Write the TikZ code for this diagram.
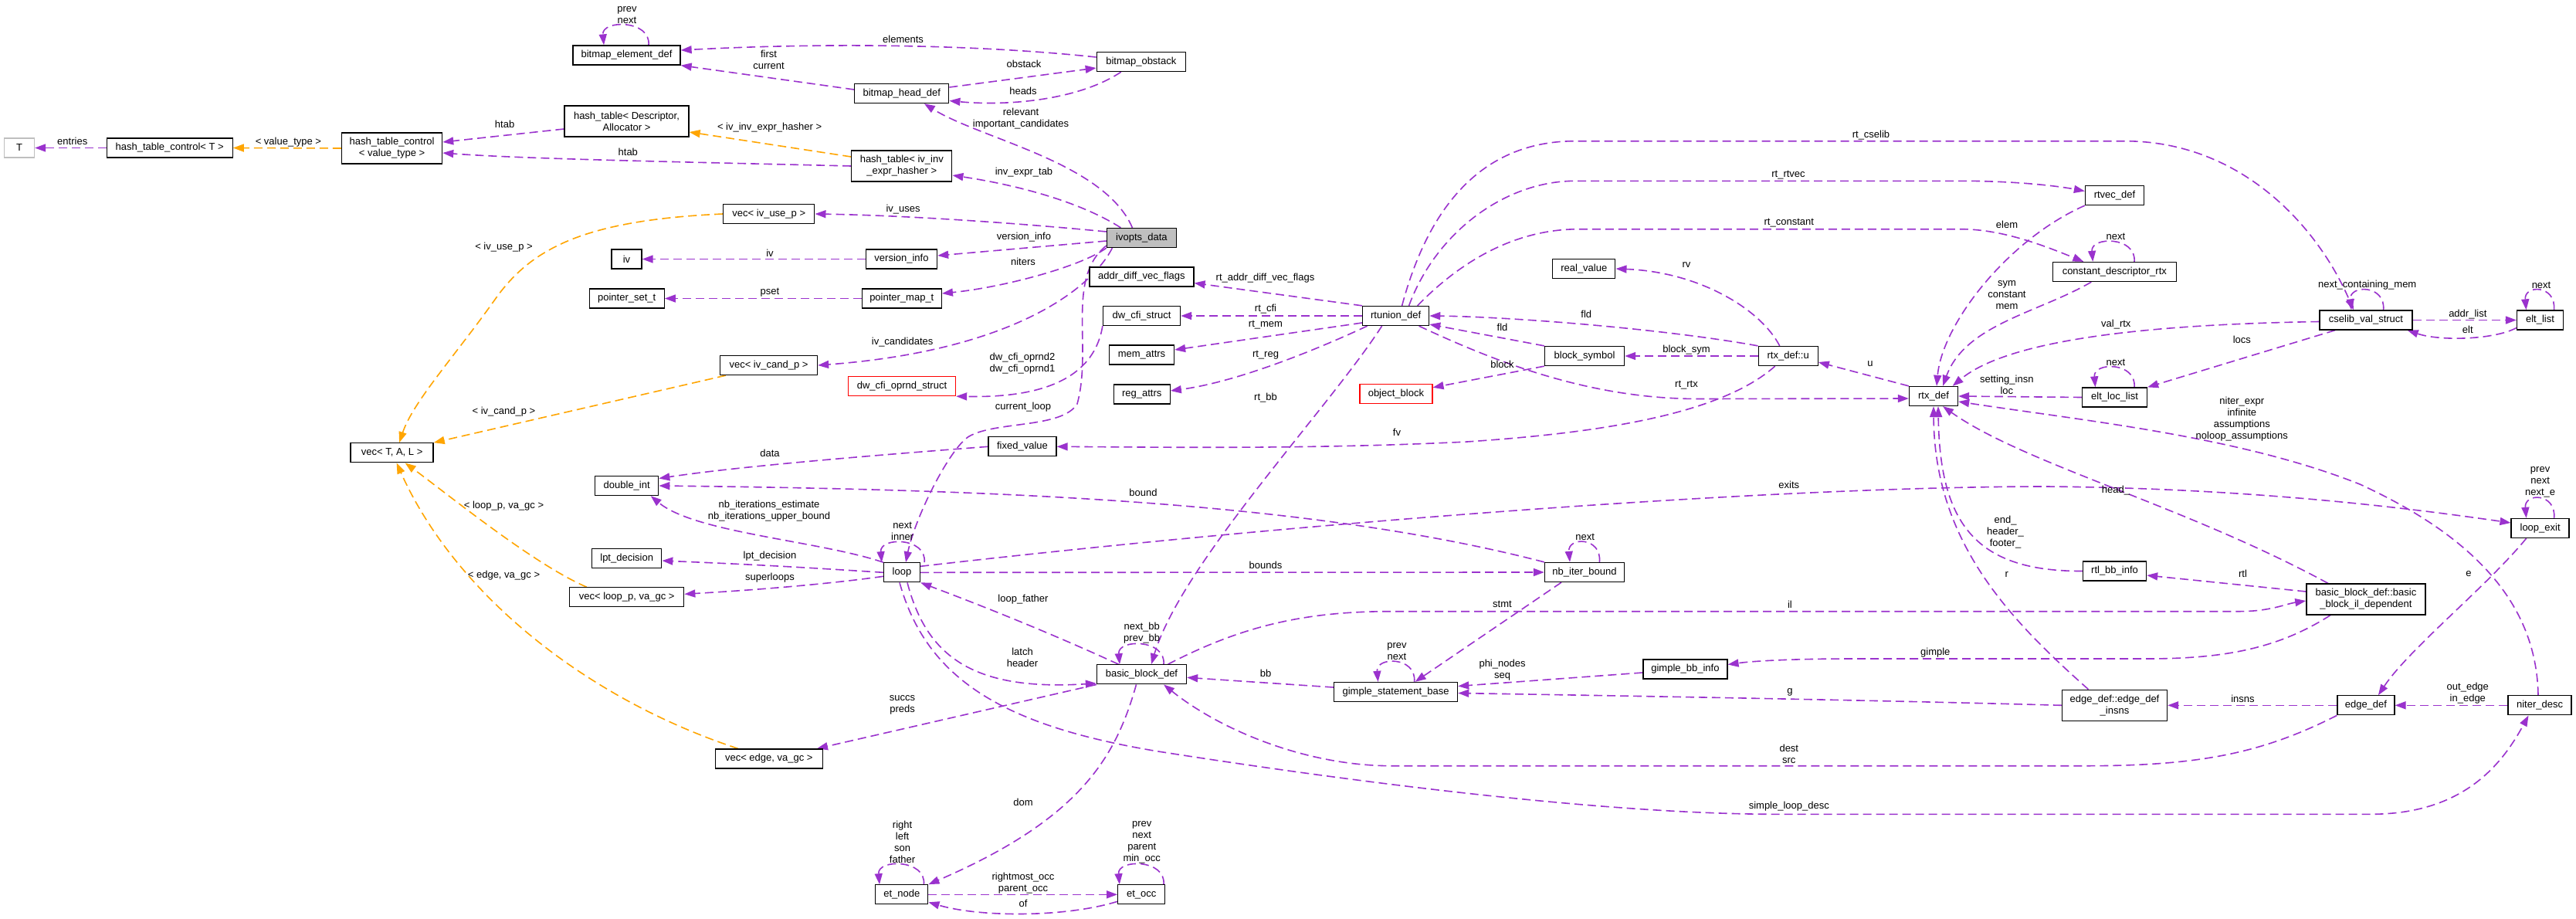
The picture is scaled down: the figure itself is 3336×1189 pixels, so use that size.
\documentclass[tikz,border=0pt]{standalone}
\usepackage{fontspec}
\setmainfont{Liberation Sans}
\usetikzlibrary{arrows.meta}
\definecolor{ep}{HTML}{9A32CD}
\definecolor{eo}{HTML}{FFA500}
\definecolor{gfill}{HTML}{BFBFBF}
\newcommand\fsz{\fontsize{13}{15}\selectfont}
\pgfdeclarelayer{bg}
\pgfsetlayers{bg,main}
\tikzset{
 box/.style={draw=black, line width=1.3pt, fill=white, inner sep=0pt, minimum height=25pt, align=center, font=\fsz},
 lbl/.style={inner sep=0pt, align=center, font=\fsz},
 pe/.style={draw=ep, line width=1.6pt, dash pattern=on 11pt off 6pt, -{Triangle[length=14pt,width=10pt]}},
 oe/.style={pe, draw=eo},
}
\newcommand\sloop[3]{\draw[pe] ([xshift=#2pt]#1.north) .. controls +(3,-33) and +(-3,-33) .. ([xshift=#3pt]#1.north);}
\newcommand\elab[4]{\node[lbl] (#1) at (#2,#3) {#4};}
\begin{document}
\begin{tikzpicture}[x=1pt,y=-1pt]
\useasboundingbox (0,0) rectangle (3336,1189);
% nodes
\node[box,minimum width=39pt,draw=gfill] (T) at (25,191.5) {T};
\node[box,minimum width=163pt] (htcT) at (219.7,191.5) {hash\_table\_control< T >};
\node[box,minimum width=130pt,minimum height=40pt] (htcV) at (507.6,192) {hash\_table\_control\\< value\_type >};
\node[box,minimum width=161pt,minimum height=40pt] (htDA) at (811.5,157) {hash\_table< Descriptor,\\ Allocator >};
\node[box,minimum width=139pt] (bed) at (811.5,71.5) {bitmap\_element\_def};
\node[box,minimum width=39pt] (iv) at (811.5,335.5) {iv};
\node[box,minimum width=97pt] (pset) at (811.7,386.5) {pointer\_set\_t};
\node[box,minimum width=107pt] (vecTAL) at (507.6,586.3) {vec< T, A, L >};
\node[box,minimum width=82pt] (dint) at (811.7,629) {double\_int};
\node[box,minimum width=90pt] (lpt) at (811.7,722.7) {lpt\_decision};
\node[box,minimum width=148pt] (vecloop) at (811.7,773.3) {vec< loop\_p, va\_gc >};
\node[box,minimum width=115pt] (bho) at (1477.8,80) {bitmap\_obstack};
\node[box,minimum width=122pt] (bhd) at (1167.8,121) {bitmap\_head\_def};
\node[box,minimum width=130pt,minimum height=40pt] (htiv) at (1167.8,215) {hash\_table< iv\_inv\\\_expr\_hasher >};
\node[box,minimum width=118pt] (vecuse) at (995.8,277) {vec< iv\_use\_p >};
\node[box,minimum width=90pt,fill=gfill] (ivopts) at (1478.4,308) {ivopts\_data};
\node[box,minimum width=92pt] (vinfo) at (1167.5,335.5) {version\_info};
\node[box,minimum width=103pt] (pmap) at (1167.8,386.5) {pointer\_map\_t};
\node[box,minimum width=135pt] (adv) at (1478.4,358.5) {addr\_diff\_vec\_flags};
\node[box,minimum width=100pt] (dwcfi) at (1478.5,409) {dw\_cfi\_struct};
\node[box,minimum width=84pt] (memattrs) at (1478.5,459.5) {mem\_attrs};
\node[box,minimum width=73pt] (regattrs) at (1478.7,510.5) {reg\_attrs};
\node[box,minimum width=126pt] (veccand) at (995.5,473) {vec< iv\_cand\_p >};
\node[box,minimum width=139pt,draw=red] (dwop) at (1168,500) {dw\_cfi\_oprnd\_struct};
\node[box,minimum width=88pt] (fixedv) at (1324,578.3) {fixed\_value};
\node[box,minimum width=47pt] (loop) at (1168,741.3) {loop};
\node[box,minimum width=86pt] (rtunion) at (1807.6,409) {rtunion\_def};
\node[box,minimum width=81pt] (realv) at (2051.3,348) {real\_value};
\node[box,minimum width=103pt] (blocksym) at (2052,461) {block\_symbol};
\node[box,minimum width=77pt] (rtxu) at (2315.7,461) {rtx\_def::u};
\node[box,minimum width=94pt,draw=red] (objblock) at (1807.9,510.3) {object\_block};
\node[box,minimum width=103pt] (nbiter) at (2052,741) {nb\_iter\_bound};
\node[box,minimum width=76pt] (rtvec) at (2738.5,253) {rtvec\_def};
\node[box,minimum width=160pt] (cdrtx) at (2738.3,352) {constant\_descriptor\_rtx};
\node[box,minimum width=120pt] (cselib) at (3064,414.5) {cselib\_val\_struct};
\node[box,minimum width=60pt] (eltlist) at (3289.5,414.5) {elt\_list};
\node[box,minimum width=63pt] (rtx) at (2504,513) {rtx\_def};
\node[box,minimum width=84pt] (eltloc) at (2738.5,514.5) {elt\_loc\_list};
\node[box,minimum width=75pt] (loopexit) at (3289.6,684) {loop\_exit};
\node[box,minimum width=82pt] (rtlbb) at (2738.5,739.5) {rtl\_bb\_info};
\node[box,minimum width=154pt,minimum height=40pt] (bbil) at (3063.9,776) {basic\_block\_def::basic\\\_block\_il\_dependent};
\node[box,minimum width=136pt,minimum height=40pt] (edins) at (2738.5,913.3) {edge\_def::edge\_def\\\_insns};
\node[box,minimum width=74pt] (edge) at (3063.9,913.3) {edge\_def};
\node[box,minimum width=82pt] (niter) at (3289,913.3) {niter\_desc};
\node[box,minimum width=160pt] (gsb) at (1807.6,896) {gimple\_statement\_base};
\node[box,minimum width=109pt] (gbb) at (2182.4,866.5) {gimple\_bb\_info};
\node[box,minimum width=116pt] (bbdef) at (1478.5,873.3) {basic\_block\_def};
\node[box,minimum width=139pt] (vecedge) at (995.8,982.5) {vec< edge, va\_gc >};
\node[box,minimum width=68pt] (etnode) at (1167.8,1158.3) {et\_node};
\node[box,minimum width=61pt] (etocc) at (1478.2,1158.3) {et\_occ};
% edges
\begin{pgfonlayer}{bg}
\fill[white] (0,0) rectangle (3336,1189);
\draw[pe] (htcT.west) -- (T.east);
\draw[oe] (htcV.west) -- (htcT.east);
\draw[pe] ([yshift=-10pt]htDA.west) -- ([yshift=8pt]htcV.east);
\draw[pe] (htiv.west) .. controls (900,210) and (680,206) .. ([yshift=-6pt]htcV.east);
\draw[oe] ([yshift=12pt]htiv.west) -- ([yshift=-14pt]htDA.east);
\sloop{bed}{28.5}{-29.5}
\draw[pe] ([yshift=6pt]bho.west) .. controls (1250,56) and (1050,56) .. ([yshift=6.5pt]bed.east);
\draw[pe] ([yshift=5pt]bhd.west) -- (bed.south east);
\draw[pe] ([yshift=8pt]bhd.east) -- ([yshift=-8pt]bho.west);
\draw[pe] ([xshift=-26pt]bho.south) .. controls (1400,128) and (1310,138) .. ([yshift=-9.5pt]bhd.east);
\draw[pe] ([xshift=-12pt]ivopts.north) .. controls (1430,210) and (1270,180) .. ([xshift=29pt]bhd.south);
\draw[pe] ([xshift=-27pt]ivopts.north) .. controls (1400,262) and (1320,240) .. ([yshift=-12pt]htiv.east);
\draw[pe] ([yshift=8pt]ivopts.west) .. controls (1330,290) and (1180,279) .. (vecuse.east);
\draw[pe] ([yshift=-4pt]ivopts.west) -- ([yshift=4.5pt]vinfo.east);
\draw[pe] (vinfo.west) -- (iv.east);
\draw[pe] (ivopts.south west) .. controls (1400,345) and (1300,372) .. ([yshift=6.5pt]pmap.east);
\draw[pe] (pmap.west) -- (pset.east);
\draw[pe] ([xshift=-38pt]ivopts.south) .. controls (1410,380) and (1300,455) .. (veccand.east);
\draw[pe] ([yshift=-10pt]ivopts.west) .. controls (1380,360) and (1415,450) .. (1395,523) .. controls (1375,555) and (1290,545) .. (1255,565) .. controls (1230,580) and (1185,670) .. ([xshift=5pt]loop.north);
\draw[pe] (rtunion.north west) -- ([yshift=-8pt]adv.east);
\draw[pe] (rtunion.west) -- (dwcfi.east);
\draw[pe] ([yshift=-9pt]rtunion.west) -- ([yshift=6.5pt]memattrs.east);
\draw[pe] ([xshift=-37pt]rtunion.south) .. controls (1700,455) and (1600,495) .. ([yshift=4.5pt]regattrs.east);
\draw[pe] ([xshift=-18pt]rtunion.south) .. controls (1720,530) and (1530,730) .. ([xshift=12.5pt]bbdef.north);
\draw[pe] ([xshift=8pt]rtunion.north) .. controls (1860,230) and (1950,182.7) .. (2040,182.7) -- (2752,182.7) .. controls (2900,183) and (3000,290) .. ([xshift=-16pt]cselib.north);
\draw[pe] ([xshift=17pt]rtunion.north) .. controls (1860,300) and (1950,234.3) .. (2040,234.3) -- (2550,234.3) .. controls (2610,235) and (2660,240) .. ([yshift=5.5pt]rtvec.west);
\draw[pe] ([xshift=28pt]rtunion.north) .. controls (1890,340) and (1960,296.7) .. (2045,296.7) -- (2540,296.7) .. controls (2590,297) and (2640,315) .. ([xshift=-40pt]cdrtx.north);
\draw[pe] (rtxu.north west) .. controls (2150,425) and (1950,410) .. (rtunion.east);
\draw[pe] (blocksym.north west) -- ([yshift=-11pt]rtunion.east);
\draw[pe] (rtxu.west) -- (blocksym.east);
\draw[pe] (blocksym.south west) -- ([yshift=8.5pt]objblock.east);
\draw[pe] ([xshift=30pt]rtunion.south) .. controls (1940,470) and (2060,516.5) .. (2200,516.5) -- ([yshift=-3pt]rtx.west);
\draw[pe] ([xshift=-11pt]rtxu.north) .. controls (2280,400) and (2200,352) .. (realv.east);
\draw[pe] ([xshift=-17pt]rtxu.south) .. controls (2230,535) and (2080,560) .. (1900,572) .. controls (1700,582) and (1500,579) .. (fixedv.east);
\draw[pe] (rtx.north west) -- ([yshift=-8pt]rtxu.east);
\draw[pe] (rtvec.south west) .. controls (2600,310) and (2515,420) .. ([xshift=4pt]rtx.north);
\draw[pe] ([xshift=-30pt]cdrtx.south) .. controls (2640,405) and (2545,420) .. ([xshift=12pt]rtx.north);
\sloop{cdrtx}{25.7}{-28}
\draw[pe] ([yshift=-2pt]cselib.west) .. controls (2780,420) and (2600,440) .. ([xshift=-7.5pt]rtx.north east);
\sloop{cselib}{22.6}{-19}
\draw[pe] (cselib.east) -- (eltlist.west);
\draw[pe] ([yshift=-10pt]eltlist.west) .. controls (3230,440) and (3160,442) .. ([xshift=-7pt]cselib.south east);
\sloop{eltlist}{18}{-18}
\draw[pe] ([xshift=-40pt]cselib.south) -- (eltloc.north east);
\draw[pe] (eltloc.west) -- (rtx.east);
\sloop{eltloc}{25.5}{-25}
\draw[pe] ([xshift=-2pt]niter.north) .. controls (3285,790) and (3215,700) .. (3056,627) .. controls (2900,565) and (2700,545) .. ([yshift=-7pt]rtx.east);
\draw[pe] ([yshift=8pt]loop.east) .. controls (1700,675) and (2300,630) .. (2650,630) .. controls (2900,632) and (3100,655) .. ([yshift=7pt]loopexit.west);
\sloop{loopexit}{18}{-18}
\draw[pe] (loop.east) -- (nbiter.west);
\draw[pe] (nbiter.north west) .. controls (1700,650) and (1300,634) .. (dint.east);
\sloop{nbiter}{19.4}{-19}
\draw[pe] ([xshift=-30pt]nbiter.south) -- ([xshift=25pt]gsb.north);
\draw[pe] (fixedv.west) .. controls (1100,592) and (950,605) .. ([yshift=9.5pt]dint.east);
\draw[pe] (loop.north west) .. controls (1060,700) and (900,690) .. ([xshift=31pt]dint.south);
\draw[pe] (loop.west) .. controls (1000,732) and (950,730) .. ([yshift=-3.3pt]lpt.east);
\draw[pe] ([yshift=-5pt]loop.west) .. controls (1060,758) and (960,765) .. ([yshift=4pt]vecloop.east);
\draw[pe] ([xshift=5pt]loop.north east) .. controls +(3,-33) and +(-3,-33) .. ([xshift=-2pt]loop.north west);
\draw[pe] ([xshift=-30pt]bbdef.north) .. controls (1350,815) and (1260,780) .. (loop.south east);
\draw[pe] ([xshift=7pt]loop.south) .. controls (1200,850) and (1260,895) .. ([yshift=-11.5pt]bbdef.west);
\draw[pe] ([xshift=-3pt]loop.south) .. controls (1200,880) and (1300,940) .. (1500,973) .. controls (1800,1020) and (2100,1054.3) .. (2300,1054.3) -- (3070,1054.3) .. controls (3190,1054.3) and (3240,990) .. ([xshift=-14.5pt]niter.south);
\sloop{bbdef}{28.5}{-28.5}
\draw[pe] (bbdef.south west) -- ([xshift=-8pt]vecedge.north east);
\draw[pe] ([xshift=-7pt]bbdef.south) .. controls (1445,980) and (1400,1060) .. (etnode.north east);
\draw[pe] (etnode.east) -- (etocc.west);
\draw[pe] ([yshift=-9pt]etocc.west) .. controls (1380,1188) and (1270,1188) .. ([yshift=-10pt]etnode.east);
\sloop{etocc}{28.8}{-28.4}
\sloop{etnode}{28.6}{-28.8}
\draw[pe] ([yshift=6pt]gsb.west) -- ([yshift=-4pt]bbdef.east);
\sloop{gsb}{24}{-23}
\draw[pe] ([yshift=-4.5pt]gbb.west) -- ([yshift=7.5pt]gsb.east);
\draw[pe] ([xshift=-46pt]bbil.south) .. controls (2950,840) and (2880,853) .. (2780,853) -- (2400,853) .. controls (2320,853) and (2270,856) .. ([yshift=6pt]gbb.east);
\draw[pe] ([xshift=34pt]bbdef.north) .. controls (1600,815) and (1680,791.7) .. (1800,791.7) -- (2900,791.7) .. controls (2940,791.7) and (2960,782) .. ([yshift=-2pt]bbil.west);
\draw[pe] ([yshift=10pt]bbil.west) -- ([yshift=-5.5pt]rtlbb.east);
\draw[pe] (rtlbb.west) .. controls (2560,740) and (2512,680) .. ([xshift=6pt]rtx.south);
\draw[pe] ([xshift=-49pt]bbil.north) .. controls (2830,655) and (2620,600) .. ([xshift=12pt]rtx.south);
\draw[pe] ([xshift=-34pt]edins.north) .. controls (2600,800) and (2505,700) .. (rtx.south);
\draw[pe] (edins.west) .. controls (2400,906) and (2100,901) .. ([yshift=-1.5pt]gsb.east);
\draw[pe] (edge.west) -- (edins.east);
\draw[pe] ([xshift=-18pt]loopexit.south) .. controls (3220,760) and (3120,840) .. ([xshift=16pt]edge.north);
\draw[pe] (niter.west) -- (edge.east);
\draw[pe] (edge.south west) .. controls (2930,975) and (2850,991.7) .. (2700,991.7) -- (1800,991.7) .. controls (1690,991) and (1580,945) .. ([xshift=28.5pt]bbdef.south);
\draw[pe] (dwcfi.south west) .. controls (1415,500) and (1330,515) .. (dwop.south east);
\draw[oe] (vecuse.west) .. controls (760,285) and (690,320) .. (643,385) .. controls (590,460) and (535,520) .. ([xshift=9.5pt]vecTAL.north);
\draw[oe] ([xshift=8pt]veccand.south west) -- (vecTAL.north east);
\draw[oe] ([xshift=-52pt]vecloop.north) .. controls (690,730) and (580,640) .. ([xshift=17pt]vecTAL.south);
\draw[oe] ([xshift=-40pt]vecedge.north) .. controls (760,905) and (590,770) .. ([xshift=6pt]vecTAL.south);
\end{pgfonlayer}
% labels
\elab{l01}{93.75}{183.3}{entries}
\elab{l02}{373.4}{184}{< value\_type >}
\elab{l03}{653.6}{160.7}{htab}
\elab{l04}{813.3}{196.7}{htab}
\elab{l05}{996.6}{165}{< iv\_inv\_expr\_hasher >}
\elab{l06}{812}{19.5}{prev\\next}
\elab{l07}{1169.6}{50.7}{elements}
\elab{l08}{995.5}{77.2}{first\\current}
\elab{l09}{1326}{83.3}{obstack}
\elab{l10}{1325}{118.3}{heads}
\elab{l11}{1322}{153.7}{relevant\\important\_candidates}
\elab{l12}{1326}{223.3}{inv\_expr\_tab}
\elab{l13}{652.5}{320}{< iv\_use\_p >}
\elab{l14}{1169.6}{270.7}{iv\_uses}
\elab{l15}{1326}{307.3}{version\_info}
\elab{l16}{997}{327.7}{iv}
\elab{l17}{1325}{338.7}{niters}
\elab{l18}{997}{379}{pset}
\elab{l19}{1638.5}{360}{rt\_addr\_diff\_vec\_flags}
\elab{l20}{2423}{175}{rt\_cselib}
\elab{l21}{2316}{226.7}{rt\_rtvec}
\elab{l22}{2316.8}{288.7}{rt\_constant}
\elab{l23}{2184}{343.3}{rv}
\elab{l24}{2599}{290.7}{elem}
\elab{l25}{2740}{306.7}{next}
\elab{l26}{2599}{382.5}{sym\\constant\\mem}
\elab{l27}{3065.7}{369}{next\_containing\_mem}
\elab{l28}{3291}{369}{next}
\elab{l29}{3195.8}{406.7}{addr\_list}
\elab{l30}{3195.8}{426.7}{elt}
\elab{l31}{2740.3}{420}{val\_rtx}
\elab{l32}{2903.3}{440}{locs}
\elab{l33}{2740}{469}{next}
\elab{l34}{2598.8}{497.9}{setting\_insn\\loc}
\elab{l35}{2422}{470.7}{u}
\elab{l36}{2903.3}{543}{niter\_expr\\infinite\\assumptions\\noloop\_assumptions}
\elab{l37}{2740}{635}{head\_}
\elab{l38}{3289.6}{624.2}{prev\\next\\next\_e}
\elab{l39}{2597}{689.2}{end\_\\header\_\\footer\_}
\elab{l40}{2904.5}{742.7}{rtl}
\elab{l41}{2598.8}{744}{r}
\elab{l42}{3197}{743.3}{e}
\elab{l43}{2904.5}{905}{insns}
\elab{l44}{3195.8}{897.9}{out\_edge\\in\_edge}
\elab{l45}{2506.3}{845}{gimple}
\elab{l46}{1809}{843.4}{prev\\next}
\elab{l47}{1639}{871.7}{bb}
\elab{l48}{1945.5}{867.5}{phi\_nodes\\seq}
\elab{l49}{2317.9}{896.7}{g}
\elab{l50}{2316.8}{976.2}{dest\\src}
\elab{l51}{2316.8}{1044}{simple\_loop\_desc}
\elab{l52}{1945.5}{782.7}{stmt}
\elab{l53}{2317.9}{782.7}{il}
\elab{l54}{1639}{400}{rt\_cfi}
\elab{l55}{1639}{420.7}{rt\_mem}
\elab{l56}{1639}{460}{rt\_reg}
\elab{l57}{1639}{515}{rt\_bb}
\elab{l58}{2054.3}{407.3}{fld}
\elab{l59}{1945.5}{424}{fld}
\elab{l60}{2184}{452.7}{block\_sym}
\elab{l61}{1945.5}{471.7}{block}
\elab{l62}{2184}{498.3}{rt\_rtx}
\elab{l63}{1809}{560}{fv}
\elab{l64}{2316.8}{628.3}{exits}
\elab{l65}{2052.7}{695.7}{next}
\elab{l66}{1639}{732.3}{bounds}
\elab{l67}{1168.6}{443.3}{iv\_candidates}
\elab{l68}{1324}{470.8}{dw\_cfi\_oprnd2\\dw\_cfi\_oprnd1}
\elab{l69}{1325}{526.7}{current\_loop}
\elab{l70}{997}{586.7}{data}
\elab{l71}{1480.4}{638.3}{bound}
\elab{l72}{996}{661.9}{nb\_iterations\_estimate\\nb\_iterations\_upper\_bound}
\elab{l73}{1168.6}{688.2}{next\\inner}
\elab{l74}{997}{720}{lpt\_decision}
\elab{l75}{997}{747.7}{superloops}
\elab{l76}{1325}{775.7}{loop\_father}
\elab{l77}{652.5}{532.7}{< iv\_cand\_p >}
\elab{l78}{652.5}{655}{< loop\_p, va\_gc >}
\elab{l79}{652.5}{745}{< edge, va\_gc >}
\elab{l80}{1478.7}{819.8}{next\_bb\\prev\_bb}
\elab{l81}{1324}{851.8}{latch\\header}
\elab{l82}{1168.6}{912.5}{succs\\preds}
\elab{l83}{1325}{1039.3}{dom}
\elab{l84}{1168.6}{1090.3}{right\\left\\son\\father}
\elab{l85}{1478.7}{1090.7}{prev\\next\\parent\\min\_occ}
\elab{l86}{1325}{1143.3}{rightmost\_occ\\parent\_occ}
\elab{l87}{1325}{1170}{of}
\end{tikzpicture}
\end{document}
